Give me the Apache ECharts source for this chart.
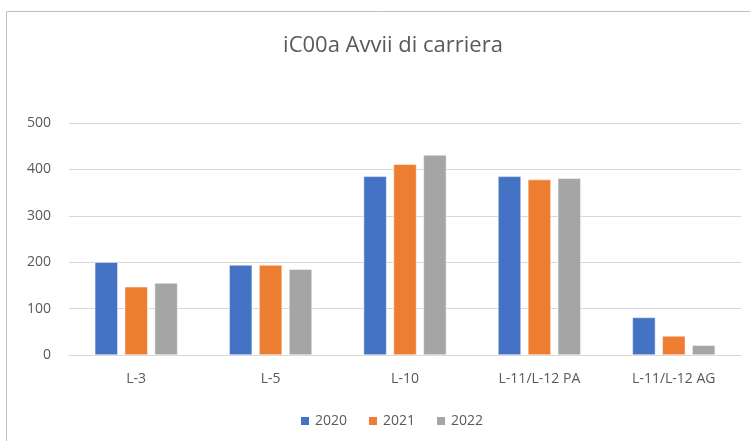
<!DOCTYPE html>
<html>
<head>
<meta charset="utf-8">
<script src="https://cdn.jsdelivr.net/npm/echarts@6/dist/echarts.min.js"></script>
<style>
  html, body { margin: 0; padding: 0; background: #fff; }
  #chart { width: 750px; height: 441px; }
</style>
</head>
<body>
<div id="chart"></div>
<script>
const categories = ["L-3", "L-5", "L-10", "L-11/L-12 PA", "L-11/L-12 AG"];
const years = ["2020", "2021", "2022"];
const values2020 = [200, 194, 385, 385, 81];
const values2021 = [147, 194, 411, 378, 41];
const values2022 = [155, 185, 431, 381, 21];
const yTicks = [0, 100, 200, 300, 400, 500];
const colors = ["#4472c4", "#ed7d31", "#a5a5a5"];

const chart = echarts.init(document.getElementById("chart"));
const font = "Open Sans";

const series = [values2020, values2021, values2022].map((vals, i) => ({
  name: years[i],
  type: "bar",
  data: vals,
  barWidth: 23,
  barGap: "30%",
  itemStyle: { color: colors[i], borderColor: "#fff", borderWidth: 0.5 },
}));

chart.setOption({
  animation: false,
  title: {
    text: "iC00a Avvii di carriera",
    left: 388,
    textAlign: "center",
    top: 30,
    textStyle: { fontFamily: font, fontSize: 22, fontWeight: "normal", color: "#595959" },
  },
  graphic: [{
    type: "rect",
    shape: { x: 6.5, y: 11.5, width: 760, height: 450 },
    style: { fill: "none", stroke: "#bfbfbf", lineWidth: 1 },
    silent: true,
  }],
  legend: {
    data: years,
    top: 409,
    left: 294,
    icon: "rect",
    itemWidth: 10,
    itemHeight: 10,
    itemGap: 20,
    textStyle: { fontFamily: font, fontSize: 14, color: "#595959" },
  },
  grid: { left: 69, right: 9, top: 123, bottom: 86, containLabel: false },
  xAxis: {
    type: "category",
    data: categories,
    axisLine: { lineStyle: { color: "#d9d9d9" } },
    axisTick: { show: false },
    axisLabel: { fontFamily: font, fontSize: 14, color: "#595959", margin: 17 },
  },
  yAxis: {
    type: "value",
    min: yTicks[0],
    max: yTicks[yTicks.length - 1],
    interval: 100,
    axisLine: { show: false },
    axisTick: { show: false },
    splitLine: { lineStyle: { color: "#d9d9d9" } },
    axisLabel: { fontFamily: font, fontSize: 14, color: "#595959", margin: 18 },
  },
  series: series,
});
</script>
</body>
</html>
